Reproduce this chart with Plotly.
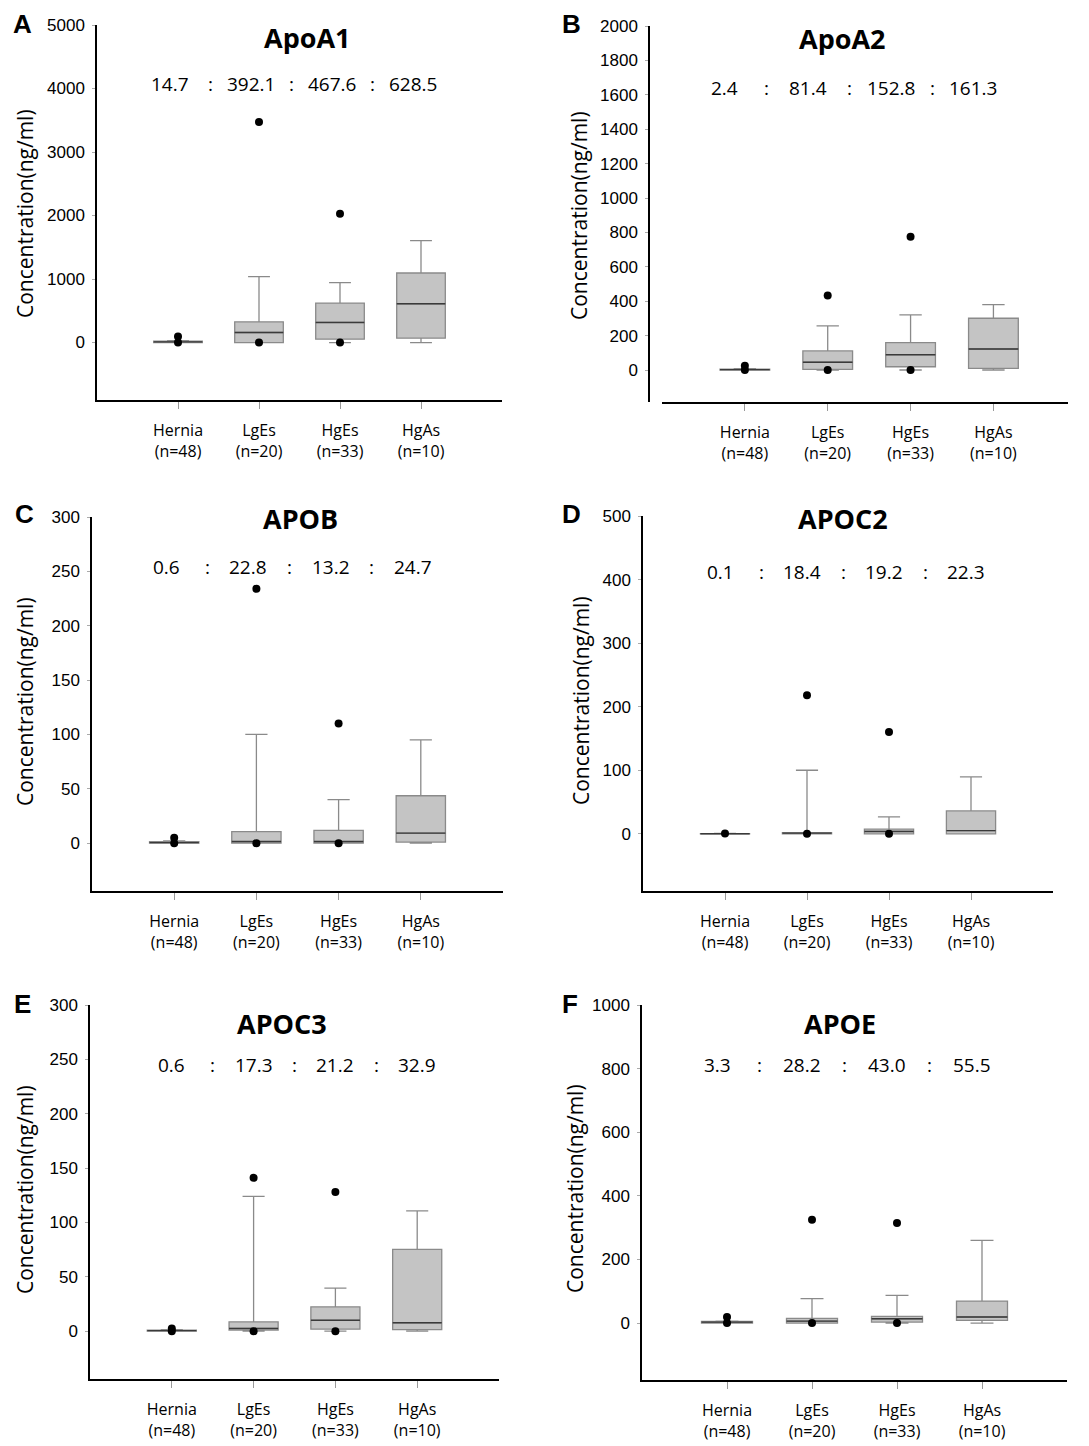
import plotly.graph_objects as go

W, H = 1089, 1446

categories = ["Hernia", "LgEs", "HgEs", "HgAs"]
tick_text = ["Hernia<br>(n=48)", "LgEs<br>(n=20)", "HgEs<br>(n=33)", "HgAs<br>(n=10)"]

titles = ["ApoA1", "ApoA2", "APOB", "APOC2", "APOC3", "APOE"]
letters = ["A", "B", "C", "D", "E", "F"]

ratios_A = ["14.7", "392.1", "467.6", "628.5"]
ratios_B = ["2.4", "81.4", "152.8", "161.3"]
ratios_C = ["0.6", "22.8", "13.2", "24.7"]
ratios_D = ["0.1", "18.4", "19.2", "22.3"]
ratios_E = ["0.6", "17.3", "21.2", "32.9"]
ratios_F = ["3.3", "28.2", "43.0", "55.5"]

# box statistics per panel: q1, median, q3, lower whisker, upper whisker
q1_A = [0, 0, 53, 68]
med_A = [10, 158, 316, 610]
q3_A = [20, 326, 621, 1095]
lo_A = [0, 0, 0, 0]
hi_A = [30, 1037, 942, 1605]
out_A = [[95, 0], [3474, 0], [2026, 0], []]

q1_B = [0, 4, 19, 10]
med_B = [2, 45, 89, 122]
q3_B = [5, 111, 159, 301]
lo_B = [0, 0, 0, 0]
hi_B = [8, 256, 320, 380]
out_B = [[25, 0], [433, 0], [775, 0], []]

q1_C = [0, 0, 0, 1]
med_C = [0.5, 1.5, 1.5, 9.2]
q3_C = [1.5, 10.7, 11.7, 43.6]
lo_C = [0, 0, 0, 0]
hi_C = [2, 100, 40, 95]
out_C = [[5, 0], [234, 0], [110, 0], []]

q1_D = [0, 0, 0, 0]
med_D = [0, 1, 3.7, 5]
q3_D = [0.2, 2, 7.3, 36]
lo_D = [0, 0, 0, 0]
hi_D = [0.5, 100, 26.7, 89.6]
out_D = [[0.5], [218, 0], [160, 0], []]

q1_E = [0, 1, 1.8, 1.5]
med_E = [0.5, 2.5, 10, 7.7]
q3_E = [1, 8.6, 22.4, 75.2]
lo_E = [0, 0, 0, 0]
hi_E = [1.5, 124, 39.6, 110.7]
out_E = [[2.5, 0], [141, 0], [128, 0], []]

q1_F = [0, 0, 3, 8.4]
med_F = [3, 6, 13.6, 19]
q3_F = [5, 14.7, 21, 69]
lo_F = [0, 0, 0, 0]
hi_F = [6, 76.6, 87, 260]
out_F = [[19, 0], [325, 0], [315, 0], []]

yticks_A = [0, 1000, 2000, 3000, 4000, 5000]
yticks_B = [0, 200, 400, 600, 800, 1000, 1200, 1400, 1600, 1800, 2000]
yticks_C = [0, 50, 100, 150, 200, 250, 300]
yticks_D = [0, 100, 200, 300, 400, 500]
yticks_E = [0, 50, 100, 150, 200, 250, 300]
yticks_F = [0, 200, 400, 600, 800, 1000]

yranges = [[-905, 5000], [-186, 2000], [-44, 300], [-90, 500], [-44, 300], [-179, 1000]]
xranges = [[-1, 4], [-1, 3.9], [-1, 4], [-1, 4], [-1, 4], [-1, 4]]

panels = [
    (q1_A, med_A, q3_A, lo_A, hi_A, out_A, yticks_A, ratios_A),
    (q1_B, med_B, q3_B, lo_B, hi_B, out_B, yticks_B, ratios_B),
    (q1_C, med_C, q3_C, lo_C, hi_C, out_C, yticks_C, ratios_C),
    (q1_D, med_D, q3_D, lo_D, hi_D, out_D, yticks_D, ratios_D),
    (q1_E, med_E, q3_E, lo_E, hi_E, out_E, yticks_E, ratios_E),
    (q1_F, med_F, q3_F, lo_F, hi_F, out_F, yticks_F, ratios_F),
]

# layout geometry in pixels: x-axis left, right, plot top, plot bottom, y-axis x position
geom = [
    (97, 502, 25, 400, 97),
    (662, 1068, 26, 402, 649),
    (92, 503, 517, 891, 92),
    (643, 1053, 516, 891, 643),
    (90, 499, 1005, 1379, 90),
    (642, 1067, 1005, 1380, 642),
]
title_pos = [(307, 37), (842, 38), (300, 518), (843, 518), (282, 1023), (840, 1023)]
letter_pos = [(22, 24), (571, 24), (24, 514), (571, 514), (22, 1004), (570, 1004)]
ratio_y = [84, 88, 567, 572, 1065, 1065]
ratio_shift = [-8, -20, -8, -5, 0, -10]
ytitle_pos = [(25, 214), (579, 216), (25, 702), (581, 701), (25, 1190), (575, 1189)]

BOX_FILL = "#c4c4c4"
BOX_LINE = "#8a8a8a"
MED_LINE = "#3a3a3a"
FONT_TXT = "Open Sans"
FONT_NUM = "Liberation Sans"

fig = go.Figure()
layout = dict(
    width=W, height=H,
    margin=dict(l=0, r=0, t=0, b=0, autoexpand=False),
    paper_bgcolor="white", plot_bgcolor="white",
    showlegend=False,
    annotations=[],
)

def px(x):
    return x / W

def py(y):
    return 1 - y / H

for i, (q1, med, q3, lo, hi, outs, yt, ratios) in enumerate(panels):
    n = i + 1
    xa = "x" if n == 1 else f"x{n}"
    ya = "y" if n == 1 else f"y{n}"
    xkey = "xaxis" if n == 1 else f"xaxis{n}"
    ykey = "yaxis" if n == 1 else f"yaxis{n}"
    xl, xr, yt_px, yb_px, yaxis_x = geom[i]

    fig.add_trace(go.Box(
        x=categories, q1=q1, median=med, q3=q3,
        lowerfence=lo, upperfence=hi,
        boxpoints=False, width=0.6, whiskerwidth=0.45,
        fillcolor=BOX_FILL, line=dict(color=BOX_LINE, width=1.3),
        xaxis=xa, yaxis=ya, hoverinfo="skip",
    ))
    # darker median line drawn as a collapsed box at the median
    fig.add_trace(go.Box(
        x=categories, q1=med, median=med, q3=med,
        lowerfence=med, upperfence=med,
        boxpoints=False, width=0.6, whiskerwidth=0,
        fillcolor="rgba(0,0,0,0)", line=dict(color=MED_LINE, width=1.4),
        xaxis=xa, yaxis=ya, hoverinfo="skip",
    ))
    ox, oy = [], []
    for c, vals in zip(categories, outs):
        for v in vals:
            ox.append(c)
            oy.append(v)
    fig.add_trace(go.Scatter(
        x=ox, y=oy, mode="markers",
        marker=dict(color="black", size=8),
        xaxis=xa, yaxis=ya, hoverinfo="skip",
    ))

    layout[xkey] = dict(
        domain=[px(xl), px(xr)], anchor=ya if n != 2 else "y2",
        type="category", categoryorder="array", categoryarray=categories,
        range=xranges[i], tickvals=categories, ticktext=tick_text,
        showline=True, linecolor="black", linewidth=1.5,
        ticks="outside", ticklen=7, tickcolor="#999999", tickwidth=1.2,
        ticklabelstandoff=8, automargin=False,
        tickfont=dict(family=FONT_TXT, size=16, color="black"),
        showgrid=False, zeroline=False, fixedrange=True,
    )
    ydict = dict(
        domain=[py(yb_px), py(yt_px)],
        range=yranges[i], tickvals=yt,
        showline=True, linecolor="black", linewidth=1.5,
        ticks="outside", ticklen=3, tickcolor="#aaaaaa", tickwidth=1,
        ticklabelstandoff=4, automargin=False,
        tickfont=dict(family=FONT_NUM, size=17, color="black"),
        showgrid=False, zeroline=False, fixedrange=True,
    )
    if n == 2:
        ydict["anchor"] = "free"
        ydict["position"] = px(yaxis_x)
    else:
        ydict["anchor"] = xa
    layout[ykey] = ydict

    ann = layout["annotations"]
    common = dict(showarrow=False, xanchor="center", yanchor="middle")
    tx, ty = title_pos[i]
    ann.append(dict(text=f"<b>{titles[i]}</b>", x=px(tx), y=py(ty), xref="paper", yref="paper",
                    font=dict(family=FONT_TXT, size=27, color="black"), **common))
    lx, ly = letter_pos[i]
    ann.append(dict(text=f"<b>{letters[i]}</b>", x=px(lx), y=py(ly), xref="paper", yref="paper",
                    font=dict(family=FONT_NUM, size=26, color="black"), **common))
    yx, yy = ytitle_pos[i]
    ann.append(dict(text="Concentration(ng/ml)", x=px(yx), y=py(yy), xref="paper", yref="paper",
                    textangle=-90, font=dict(family=FONT_TXT, size=21, color="black"), **common))
    for k, r in enumerate(ratios):
        ann.append(dict(text=r, x=k, y=py(ratio_y[i]), xref=xa, yref="paper",
                        xshift=ratio_shift[i],
                        font=dict(family=FONT_TXT, size=19, color="black"), **common))
        if k < len(ratios) - 1:
            ann.append(dict(text=":", x=k + 0.5, y=py(ratio_y[i]), xref=xa, yref="paper",
                            xshift=ratio_shift[i],
                            font=dict(family=FONT_TXT, size=19, color="black"), **common))

fig.update_layout(**layout)
fig.write_html("out.html", config={"displayModeBar": False},
               post_script="document.body.style.margin='0';")
